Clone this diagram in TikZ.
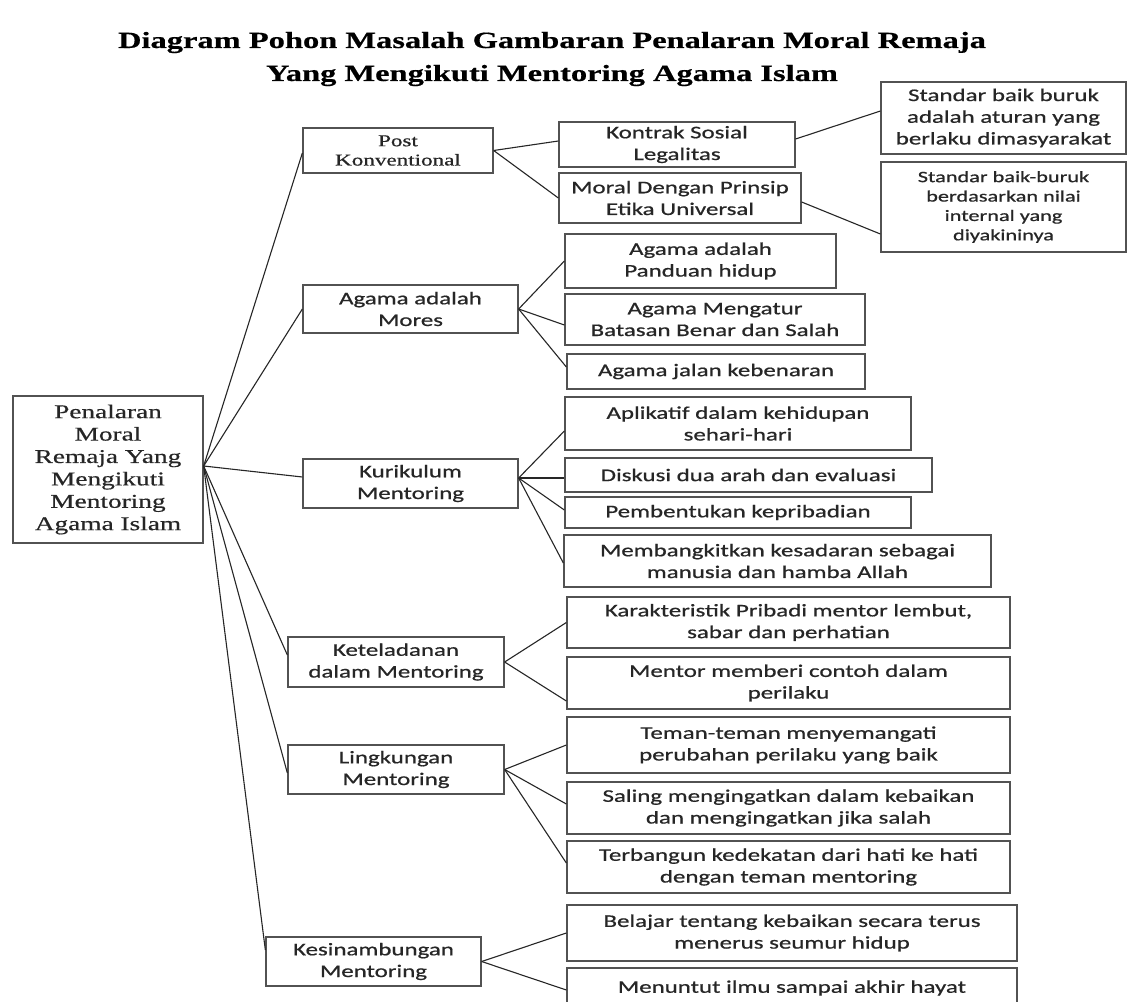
\documentclass[tikz,border=0pt]{standalone}
\usepackage{fontspec}
\setmainfont{Carlito}[FakeStretch=1.4,FakeBold=0.7]
\newfontfamily\tnr{Liberation Serif}[FakeStretch=1.4,FakeBold=0.5]
\newcommand\bxfont{\fontsize{17.8}{21.7}\selectfont}
\newcommand\smfont{\fontsize{15.9}{19.4}\selectfont}
\newcommand\rootfont{\tnr\fontsize{19.5}{22.4}\selectfont}
\newcommand\postfont{\tnr\fontsize{16.5}{19.3}\selectfont}
\newcommand\titlefont{\tnr\bfseries\fontsize{23.2}{33}\selectfont}
\tikzset{
  box/.style={draw=black!68, line width=1.3pt, inner sep=0pt, align=center, text=black!85, font=\bxfont},
  link/.style={draw=black!85, line width=1.1pt},
}
\begin{document}
\begin{tikzpicture}[x=1pt,y=-1pt]
\useasboundingbox (0,0) rectangle (1131,1001);
\clip (0,0) rectangle (1131,1001);
\fill[white] (0,0) rectangle (1131,1001);

% title
\node[align=center, font=\titlefont, text=black] (title) at (552,59)
  {Diagram Pohon Masalah Gambaran Penalaran Moral Remaja\\Yang Mengikuti Mentoring Agama Islam};

% root
\node[box, font=\rootfont, minimum width=190pt, minimum height=147pt] (root) at (108,469.5)
  {Penalaran\\Moral\\Remaja Yang\\Mengikuti\\Mentoring\\Agama Islam};

% level 1
\node[box, font=\postfont, minimum width=190pt, minimum height=45pt] (post) at (398,150.5) {Post\\Konventional};
\node[box, minimum width=215pt, minimum height=48pt] (mores) at (410.5,309) {Agama adalah\\Mores};
\node[box, minimum width=215pt, minimum height=49pt] (kur) at (410.5,483.5) {Kurikulum\\Mentoring};
\node[box, minimum width=216pt, minimum height=50pt] (ket) at (396,662) {Keteladanan\\dalam Mentoring};
\node[box, minimum width=216pt, minimum height=49pt] (ling) at (396,769.5) {Lingkungan\\Mentoring};
\node[box, minimum width=215pt, minimum height=49pt] (kes) at (373.5,961.5) {Kesinambungan\\Mentoring};

% level 2
\node[box, minimum width=236pt, minimum height=45pt] (kontrak) at (677,144.5) {Kontrak Sosial\\Legalitas};
\node[box, minimum width=242pt, minimum height=50pt] (moral) at (680,198) {Moral Dengan Prinsip\\Etika Universal};
\node[box, minimum width=245pt, minimum height=72pt] (std1) at (1003.5,118) {Standar baik buruk\\adalah aturan yang\\berlaku dimasyarakat};
\node[box, font=\smfont, minimum width=245pt, minimum height=90pt] (std2) at (1003.5,207) {Standar baik-buruk\\berdasarkan nilai\\internal yang\\diyakininya};

\node[box, minimum width=271pt, minimum height=54pt] (panduan) at (700.5,261) {Agama adalah\\Panduan hidup};
\node[box, minimum width=300pt, minimum height=51pt] (mengatur) at (715,319.5) {Agama Mengatur\\Batasan Benar dan Salah};
\node[box, minimum width=298pt, minimum height=35pt] (jalan) at (716,371.5) {Agama jalan kebenaran};

\node[box, minimum width=346pt, minimum height=53pt] (aplik) at (738,423.5) {Aplikatif dalam kehidupan\\sehari-hari};
\node[box, minimum width=367pt, minimum height=34pt] (disk) at (748.5,475) {Diskusi dua arah dan evaluasi};
\node[box, minimum width=346pt, minimum height=31pt] (pemb) at (738,512.5) {Pembentukan kepribadian};
\node[box, minimum width=427pt, minimum height=52pt] (memb) at (777.5,561) {Membangkitkan kesadaran sebagai\\manusia dan hamba Allah};

\node[box, minimum width=443pt, minimum height=51pt] (karak) at (788.5,622.5) {Karakteristik Pribadi mentor lembut,\\sabar dan perhatian};
\node[box, minimum width=443pt, minimum height=52pt] (mentor) at (788.5,683) {Mentor memberi contoh dalam\\perilaku};

\node[box, minimum width=443pt, minimum height=56pt] (teman) at (788.5,745) {Teman-teman menyemangati\\perubahan perilaku yang baik};
\node[box, minimum width=443pt, minimum height=52pt] (saling) at (788.5,808) {Saling mengingatkan dalam kebaikan\\dan mengingatkan jika salah};
\node[box, minimum width=443pt, minimum height=52pt] (terb) at (788.5,867) {Terbangun kedekatan dari hati ke hati\\dengan teman mentoring};

\node[box, minimum width=450pt, minimum height=56pt] (belajar) at (792,933) {Belajar tentang kebaikan secara terus\\menerus seumur hidup};
\node[box, minimum width=450pt, minimum height=40pt] (menuntut) at (792,988) {Menuntut ilmu sampai akhir hayat};

% connectors root -> level 1
\draw[link] ([yshift=3.5pt]root.east) -- ([yshift=-2.5pt]post.west);
\draw[link] ([yshift=3.5pt]root.east) -- (mores.west);
\draw[link] ([yshift=3.5pt]root.east) -- ([yshift=6.5pt]kur.west);
\draw[link] ([yshift=3.5pt]root.east) -- ([yshift=7pt]ket.west);
\draw[link] ([yshift=3.5pt]root.east) -- ([yshift=-3.5pt]ling.west);
\draw[link] ([yshift=3.5pt]root.east) -- ([yshift=11.5pt]kes.west);

% level 1 -> level 2
\draw[link] (post.east) -- ([yshift=3.5pt]kontrak.west);
\draw[link] (post.east) -- (moral.west);
\draw[link] ([yshift=5.5pt]kontrak.east) -- ([yshift=7pt]std1.west);
\draw[link] ([yshift=-4pt]moral.east) -- ([yshift=-27pt]std2.west);

\draw[link] (mores.east) -- (panduan.west);
\draw[link] (mores.east) -- ([yshift=-5.5pt]mengatur.west);
\draw[link] (mores.east) -- ([yshift=4.5pt]jalan.west);

\draw[link] ([yshift=5.5pt]kur.east) -- ([yshift=-7.5pt]aplik.west);
\draw[link] ([yshift=5.5pt]kur.east) -- ([yshift=-3pt]disk.west);
\draw[link] ([yshift=5.5pt]kur.east) -- ([yshift=2.5pt]pemb.west);
\draw[link] ([yshift=5.5pt]kur.east) -- ([yshift=-2pt]memb.west);

\draw[link] (ket.east) -- (karak.west);
\draw[link] (ket.east) -- ([yshift=-18pt]mentor.west);

\draw[link] (ling.east) -- (teman.west);
\draw[link] (ling.east) -- ([yshift=4pt]saling.west);
\draw[link] (ling.east) -- ([yshift=4pt]terb.west);

\draw[link] (kes.east) -- (belajar.west);
\draw[link] (kes.east) -- ([yshift=-2pt]menuntut.west);
\end{tikzpicture}
\end{document}
